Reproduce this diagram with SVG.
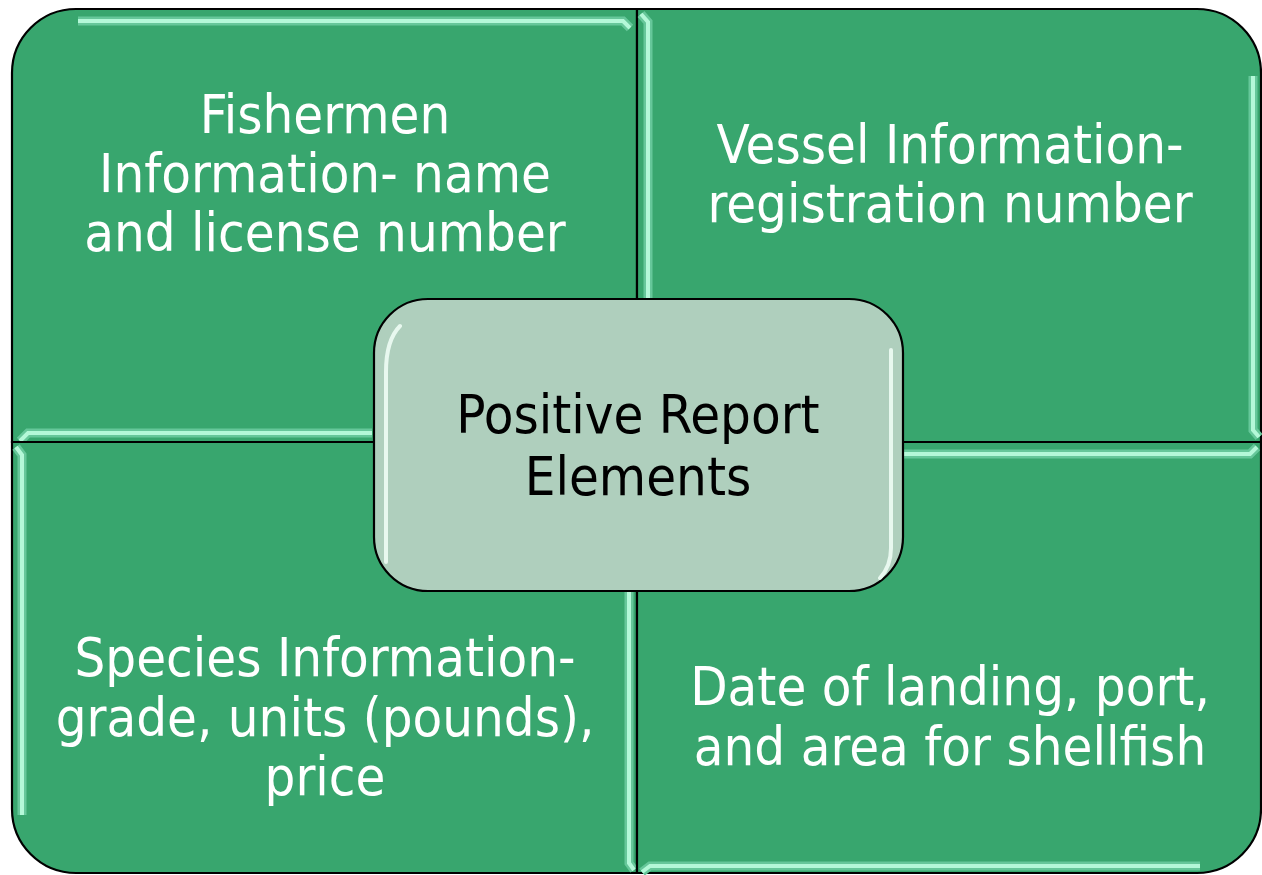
<svg xmlns="http://www.w3.org/2000/svg" width="1262" height="875" viewBox="0 0 1262 875">
  <style>
    .quad { fill: #38A66E; stroke: #000; stroke-width: 2.2; }
    .shade { fill: none; stroke: #66C79A; stroke-width: 9; stroke-linecap: butt; }
    .hl { fill: none; stroke: #B4F8D8; stroke-width: 4; stroke-linecap: butt; }
    .qtext { font-family: 'DejaVu Sans Condensed', 'DejaVu Sans', sans-serif; font-stretch: condensed; font-size: 54px; fill: #FFFFFF; text-anchor: middle; }
    .ctext { font-family: 'DejaVu Sans Condensed', 'DejaVu Sans', sans-serif; font-stretch: condensed; font-size: 54px; fill: #000000; text-anchor: middle; }
    .center { fill: #AFCFBD; stroke: #000; stroke-width: 2.2; }
    .chl { fill: none; stroke: #F2FFF8; stroke-width: 4; stroke-linecap: round; opacity: 0.85; }
  </style>
  <rect width="1262" height="875" fill="#FFFFFF"/>

  <g id="node-fishermen">
    <path class="quad" d="M12,442 V73 A64,64 0 0 1 76,9 H637 V442 Z"/>
    <path class="shade" d="M78,21 H623 L630,28"/>
    <path class="hl" d="M78,21 H623 L630,28"/>
    <path class="shade" d="M20,441 L28,433 H372"/>
    <path class="hl" d="M20,441 L28,433 H372"/>
    <text class="qtext" x="325" y="133">Fishermen</text>
    <text class="qtext" x="325" y="192">Information- name</text>
    <text class="qtext" x="325" y="251">and license number</text>
  </g>

  <g id="node-vessel">
    <path class="quad" d="M637,9 H1197 A64,64 0 0 1 1261,73 V442 H637 Z"/>
    <path class="shade" d="M641,14 L648,22 V298"/>
    <path class="hl" d="M641,14 L648,22 V298"/>
    <path class="shade" d="M1253,76 V430 L1259,437"/>
    <path class="hl" d="M1253,76 V430 L1259,437"/>
    <text class="qtext" x="950" y="163">Vessel Information-</text>
    <text class="qtext" x="950" y="222">registration number</text>
  </g>

  <g id="node-species">
    <path class="quad" d="M12,442 H637 V873 H76 A64,64 0 0 1 12,809 Z"/>
    <path class="shade" d="M16,447 L22,455 V815"/>
    <path class="hl" d="M16,447 L22,455 V815"/>
    <path class="shade" d="M629,591 V863 L634,870"/>
    <path class="hl" d="M629,591 V863 L634,870"/>
    <text class="qtext" x="325" y="676">Species Information-</text>
    <text class="qtext" x="325" y="736">grade, units (pounds),</text>
    <text class="qtext" x="325" y="795">price</text>
  </g>

  <g id="node-date">
    <path class="quad" d="M637,442 H1261 V809 A64,64 0 0 1 1197,873 H637 Z"/>
    <path class="shade" d="M903,454 H1250 L1257,447"/>
    <path class="hl" d="M903,454 H1250 L1257,447"/>
    <path class="shade" d="M642,872 L650,866 H1200"/>
    <path class="hl" d="M642,872 L650,866 H1200"/>
    <text class="qtext" x="950" y="705">Date of landing, port,</text>
    <text class="qtext" x="950" y="765">and area for shellfish</text>
  </g>

  <g id="node-center">
    <rect class="center" x="374" y="299" width="529" height="292" rx="54" ry="54"/>
    <path class="chl" d="M400,326 Q386,340 386,372 V562"/>
    <path class="chl" d="M891,350 V548 Q891,566 880,578"/>
    <text class="ctext" x="638" y="433">Positive Report</text>
    <text class="ctext" x="638" y="495">Elements</text>
  </g>

  <g id="connectors"/>
</svg>
